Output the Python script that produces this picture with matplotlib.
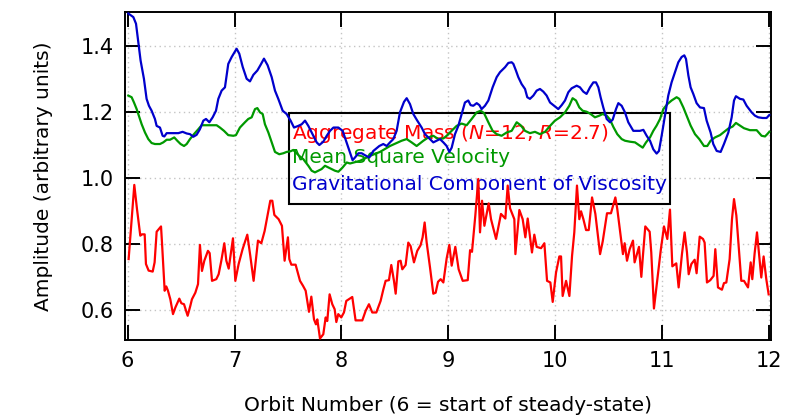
import matplotlib
matplotlib.use("Agg")
import matplotlib.pyplot as plt
from matplotlib.patches import Rectangle

# ---------------- data ----------------
red_x = [6.009, 6.062, 6.087, 6.118, 6.134, 6.159, 6.171, 6.196, 6.234, 6.252, 6.271, 6.312, 6.321,
         6.346, 6.361, 6.377, 6.399, 6.424, 6.446, 6.483, 6.502, 6.527, 6.561, 6.586, 6.601, 6.633,
         6.658, 6.676, 6.695, 6.717, 6.751, 6.767, 6.789, 6.829, 6.851, 6.876, 6.904, 6.923, 6.945,
         6.985, 7.007, 7.038, 7.075, 7.119, 7.147, 7.178, 7.219, 7.250, 7.281, 7.334, 7.353, 7.372,
         7.412, 7.443, 7.468, 7.499, 7.512, 7.531, 7.571, 7.612, 7.640, 7.665, 7.696, 7.718, 7.743,
         7.761, 7.774, 7.799, 7.830, 7.852, 7.867, 7.889, 7.914, 7.936, 7.952, 7.970, 7.998, 8.023,
         8.045, 8.101, 8.132, 8.195, 8.226, 8.257, 8.288, 8.326, 8.366, 8.391, 8.413, 8.444, 8.466,
         8.491, 8.507, 8.532, 8.553, 8.569, 8.600, 8.625, 8.647, 8.678, 8.709, 8.740, 8.759, 8.778,
         8.797, 8.828, 8.859, 8.881, 8.903, 8.928, 8.953, 8.984, 9.009, 9.031, 9.065, 9.096, 9.134,
         9.181, 9.203, 9.221, 9.252, 9.280, 9.296, 9.315, 9.337, 9.377, 9.399, 9.446, 9.492, 9.533,
         9.555, 9.577, 9.617, 9.627, 9.664, 9.695, 9.720, 9.742, 9.782, 9.804, 9.826, 9.867, 9.898,
         9.923, 9.954, 9.976, 10.007, 10.038, 10.054, 10.069, 10.101, 10.132, 10.157, 10.178, 10.203,
         10.225, 10.241, 10.263, 10.288, 10.313, 10.344, 10.375, 10.419, 10.444, 10.484, 10.521,
         10.562, 10.580, 10.602, 10.633, 10.649, 10.671, 10.696, 10.727, 10.742, 10.764, 10.783,
         10.805, 10.820, 10.842, 10.883, 10.898, 10.923, 10.955, 10.986, 11.017, 11.048, 11.073,
         11.095, 11.132, 11.154, 11.185, 11.210, 11.232, 11.248, 11.273, 11.304, 11.322, 11.351,
         11.382, 11.397, 11.419, 11.450, 11.481, 11.497, 11.522, 11.559, 11.578, 11.600, 11.631,
         11.653, 11.672, 11.694, 11.718, 11.740, 11.765, 11.803, 11.828, 11.843, 11.865, 11.887,
         11.903, 11.927, 11.949, 11.974, 11.996]
red_y = [0.755, 0.980, 0.907, 0.826, 0.830, 0.830, 0.740, 0.720, 0.717, 0.745, 0.838, 0.854, 0.805,
         0.659, 0.672, 0.659, 0.633, 0.588, 0.608, 0.635, 0.621, 0.618, 0.583, 0.613, 0.633, 0.653,
         0.679, 0.798, 0.719, 0.750, 0.780, 0.773, 0.689, 0.694, 0.709, 0.750, 0.803, 0.750, 0.726,
         0.818, 0.689, 0.740, 0.785, 0.829, 0.765, 0.689, 0.811, 0.803, 0.840, 0.932, 0.932, 0.889,
         0.876, 0.856, 0.750, 0.821, 0.755, 0.738, 0.738, 0.689, 0.674, 0.659, 0.595, 0.641, 0.572,
         0.557, 0.572, 0.514, 0.527, 0.578, 0.567, 0.648, 0.618, 0.603, 0.564, 0.588, 0.578, 0.593,
         0.628, 0.640, 0.569, 0.569, 0.598, 0.618, 0.593, 0.593, 0.628, 0.662, 0.689, 0.691, 0.737,
         0.689, 0.650, 0.748, 0.750, 0.724, 0.737, 0.805, 0.794, 0.745, 0.780, 0.797, 0.821, 0.866,
         0.805, 0.730, 0.650, 0.653, 0.686, 0.694, 0.684, 0.757, 0.798, 0.735, 0.792, 0.724, 0.689,
         0.691, 0.782, 0.777, 0.887, 0.998, 0.836, 0.932, 0.856, 0.924, 0.876, 0.816, 0.892, 0.878,
         0.978, 0.909, 0.876, 0.770, 0.904, 0.876, 0.821, 0.878, 0.775, 0.829, 0.792, 0.788, 0.803,
         0.689, 0.684, 0.625, 0.714, 0.763, 0.763, 0.643, 0.689, 0.643, 0.765, 0.836, 0.978,
         0.876, 0.900, 0.876, 0.843, 0.843, 0.942, 0.892, 0.770, 0.809, 0.894, 0.894,
         0.942, 0.907, 0.851, 0.770, 0.803, 0.750, 0.785, 0.811, 0.745, 0.770, 0.792,
         0.701, 0.765, 0.854, 0.838, 0.775, 0.605, 0.694, 0.780, 0.854, 0.816, 0.905,
         0.733, 0.742, 0.669, 0.770, 0.836, 0.775, 0.709, 0.740, 0.753, 0.712, 0.823,
         0.816, 0.805, 0.684, 0.691, 0.704, 0.785, 0.669, 0.662, 0.682, 0.684, 0.755,
         0.876, 0.937, 0.887, 0.785, 0.689, 0.689, 0.669, 0.745, 0.694, 0.773, 0.836,
         0.780, 0.699, 0.763, 0.694, 0.648]

green_x = [6.006, 6.037, 6.059, 6.084, 6.099, 6.131, 6.162, 6.193, 6.224, 6.255, 6.302, 6.333, 6.365,
           6.396, 6.436, 6.464, 6.495, 6.527, 6.552, 6.583, 6.620, 6.661, 6.692, 6.739, 6.786, 6.832,
           6.863, 6.901, 6.941, 6.988, 7.013, 7.050, 7.097, 7.128, 7.160, 7.191, 7.213, 7.238, 7.263,
           7.284, 7.316, 7.347, 7.378, 7.418, 7.456, 7.487, 7.524, 7.549, 7.574, 7.605, 7.643, 7.690,
           7.721, 7.752, 7.783, 7.814, 7.846, 7.877, 7.908, 7.939, 7.971, 8.011, 8.049, 8.080, 8.173,
           8.267, 8.360, 8.454, 8.563, 8.610, 8.656, 8.703, 8.766, 8.812, 8.859, 8.906, 8.953, 8.984,
           9.031, 9.077, 9.124, 9.171, 9.218, 9.265, 9.302, 9.333, 9.374, 9.414, 9.452, 9.498, 9.545,
           9.592, 9.639, 9.676, 9.717, 9.763, 9.810, 9.857, 9.904, 9.951, 9.997, 10.044, 10.091,
           10.131, 10.162, 10.194, 10.225, 10.256, 10.293, 10.331, 10.371, 10.412, 10.443, 10.481,
           10.512, 10.543, 10.580, 10.621, 10.652, 10.699, 10.746, 10.777, 10.818, 10.849, 10.886,
           10.917, 10.948, 10.980, 11.011, 11.048, 11.088, 11.135, 11.160, 11.198, 11.229, 11.266,
           11.307, 11.347, 11.391, 11.422, 11.453, 11.494, 11.541, 11.572, 11.619, 11.659, 11.690,
           11.728, 11.765, 11.821, 11.884, 11.930, 11.962, 11.983, 12.002]
green_y = [1.251, 1.246, 1.230, 1.210, 1.195, 1.164, 1.139, 1.119, 1.107, 1.104, 1.104, 1.109, 1.117,
           1.117, 1.124, 1.114, 1.104, 1.098, 1.104, 1.119, 1.134, 1.149, 1.161, 1.161, 1.161, 1.161,
           1.154, 1.144, 1.131, 1.129, 1.131, 1.154, 1.170, 1.180, 1.185, 1.210, 1.213, 1.200, 1.195,
           1.164, 1.139, 1.109, 1.080, 1.073, 1.076, 1.080, 1.082, 1.086, 1.078, 1.068, 1.058, 1.038,
           1.023, 1.018, 1.023, 1.028, 1.038, 1.033, 1.028, 1.023, 1.020, 1.033, 1.048, 1.045, 1.053,
           1.068, 1.080, 1.098, 1.114, 1.119, 1.109, 1.098, 1.114, 1.124, 1.129, 1.119, 1.121, 1.129,
           1.144, 1.159, 1.166, 1.161, 1.180, 1.200, 1.205, 1.198, 1.170, 1.144, 1.134, 1.129, 1.139,
           1.144, 1.170, 1.161, 1.144, 1.137, 1.141, 1.134, 1.141, 1.159, 1.175, 1.185, 1.200,
           1.220, 1.243, 1.236, 1.215, 1.205, 1.202, 1.195, 1.185, 1.190, 1.195, 1.190,
           1.178, 1.156, 1.134, 1.119, 1.114, 1.111, 1.109, 1.102, 1.093, 1.109, 1.124,
           1.144, 1.160, 1.180, 1.210, 1.225, 1.236, 1.246, 1.241, 1.215, 1.190, 1.160,
           1.134, 1.119, 1.098, 1.098, 1.114, 1.124, 1.131, 1.139, 1.151, 1.157, 1.168,
           1.160, 1.152, 1.146, 1.146, 1.129, 1.127, 1.134, 1.141]

blue_x = [6.006, 6.053, 6.078, 6.099, 6.121, 6.152, 6.177, 6.199, 6.224, 6.255, 6.271, 6.302, 6.327,
          6.343, 6.365, 6.396, 6.427, 6.474, 6.514, 6.552, 6.583, 6.614, 6.645, 6.676, 6.708, 6.733,
          6.764, 6.795, 6.826, 6.848, 6.879, 6.910, 6.941, 6.973, 7.019, 7.044, 7.076, 7.113, 7.144,
          7.176, 7.213, 7.245, 7.275, 7.309, 7.347, 7.378, 7.409, 7.450, 7.487, 7.524, 7.556, 7.596,
          7.628, 7.659, 7.690, 7.721, 7.768, 7.793, 7.830, 7.862, 7.893, 7.925, 7.971, 8.011, 8.048,
          8.104, 8.126, 8.158, 8.189, 8.220, 8.260, 8.298, 8.354, 8.391, 8.423, 8.454, 8.485, 8.516,
          8.547, 8.585, 8.610, 8.641, 8.672, 8.709, 8.750, 8.781, 8.812, 8.859, 8.890, 8.921, 8.953,
          8.984, 9.009, 9.031, 9.062, 9.093, 9.124, 9.155, 9.186, 9.208, 9.233, 9.265, 9.290, 9.311,
          9.342, 9.374, 9.414, 9.452, 9.483, 9.530, 9.561, 9.592, 9.608, 9.632, 9.654, 9.685, 9.717,
          9.738, 9.763, 9.795, 9.826, 9.857, 9.888, 9.919, 9.951, 9.982, 10.028, 10.060, 10.091,
          10.122, 10.153, 10.200, 10.231, 10.262, 10.293, 10.325, 10.356, 10.381, 10.403, 10.424,
          10.449, 10.481, 10.512, 10.537, 10.568, 10.590, 10.621, 10.652, 10.683, 10.730, 10.792,
          10.824, 10.855, 10.886, 10.917, 10.948, 10.970, 10.995, 11.026, 11.057, 11.088, 11.120,
          11.151, 11.182, 11.207, 11.223, 11.245, 11.266, 11.291, 11.322, 11.354, 11.391, 11.416,
          11.453, 11.478, 11.510, 11.547, 11.578, 11.619, 11.650, 11.672, 11.690, 11.728, 11.759,
          11.790, 11.837, 11.868, 11.899, 11.940, 11.977, 12.002]
blue_y = [1.500, 1.489, 1.469, 1.413, 1.357, 1.302, 1.241, 1.220, 1.205, 1.180, 1.159, 1.154, 1.129,
          1.127, 1.137, 1.137, 1.137, 1.137, 1.141, 1.136, 1.134, 1.126, 1.132, 1.149, 1.175, 1.180,
          1.170, 1.185, 1.205, 1.241, 1.266, 1.276, 1.347, 1.368, 1.393, 1.378, 1.338, 1.302, 1.294,
          1.314, 1.327, 1.345, 1.363, 1.343, 1.307, 1.266, 1.241, 1.205, 1.195, 1.175, 1.154, 1.159,
          1.164, 1.175, 1.159, 1.139, 1.109, 1.101, 1.111, 1.129, 1.144, 1.154, 1.154, 1.144, 1.109,
          1.055, 1.063, 1.076, 1.076, 1.070, 1.063, 1.083, 1.098, 1.104, 1.098, 1.109, 1.119, 1.144,
          1.200, 1.232, 1.243, 1.225, 1.195, 1.175, 1.154, 1.134, 1.124, 1.109, 1.114, 1.119, 1.109,
          1.098, 1.080, 1.093, 1.134, 1.159, 1.195, 1.230, 1.236, 1.222, 1.220, 1.228, 1.222, 1.210,
          1.220, 1.236, 1.276, 1.307, 1.322, 1.337, 1.350, 1.352, 1.347, 1.327, 1.307, 1.286, 1.271,
          1.246, 1.241, 1.251, 1.266, 1.271, 1.263, 1.251, 1.230, 1.222, 1.210, 1.222, 1.236,
          1.261, 1.273, 1.281, 1.276, 1.263, 1.256, 1.276, 1.291, 1.291, 1.276, 1.246,
          1.215, 1.180, 1.170, 1.178, 1.210, 1.228, 1.220, 1.200, 1.170, 1.144, 1.144,
          1.147, 1.129, 1.114, 1.088, 1.075, 1.083, 1.129, 1.190, 1.251, 1.291, 1.322,
          1.352, 1.368, 1.373, 1.362, 1.312, 1.276, 1.256, 1.228, 1.215, 1.213, 1.175,
          1.139, 1.104, 1.083, 1.080, 1.104, 1.139, 1.185, 1.236, 1.249, 1.241, 1.239,
          1.220, 1.200, 1.190, 1.185, 1.183, 1.183, 1.192]

legend_labels = ["Aggregate Mass ($\\it{N}$=12, $\\it{R}$=2.7)",
                 "Mean Square Velocity",
                 "Gravitational Component of Viscosity"]
colors = ["#ff0000", "#009900", "#0000cc"]
x_ticks = [6, 7, 8, 9, 10, 11, 12]
y_ticks = [0.6, 0.8, 1.0, 1.2, 1.4]
x_label = "Orbit Number (6 = start of steady-state)"
y_label = "Amplitude (arbitrary units)"

# ---------------- figure ----------------
plt.rcParams['font.family'] = ['DejaVu Sans']
fig = plt.figure(figsize=(7.91, 4.19), dpi=100)
ax = fig.add_axes([125 / 791, 1 - 340 / 419, 646 / 791, 328 / 419])

ax.plot(red_x, red_y, color=colors[0], lw=1.6, zorder=3)
ax.plot(green_x, green_y, color=colors[1], lw=1.6, zorder=4)
ax.plot(blue_x, blue_y, color=colors[2], lw=1.6, zorder=5)

ax.set_xlim(5.975, 12.018)
ax.set_ylim(0.5095, 1.5045)
ax.set_xticks(x_ticks)
ax.set_xticklabels([str(t) for t in x_ticks])
ax.set_yticks(y_ticks)
ax.set_yticklabels([f"{t:.1f}" for t in y_ticks])

ax.grid(True, color="#c4c4c4", linestyle=(0, (1, 2.5)), linewidth=1.0, zorder=0)
ax.tick_params(axis='both', which='major', direction='in', length=11, width=1.4,
               top=True, right=True, labelsize=15, pad=8, colors='black')
for s in ax.spines.values():
    s.set_linewidth(1.4)

ax.set_xlabel(x_label, fontsize=14.5, labelpad=18)
ax.set_ylabel(y_label, fontsize=14.5, labelpad=20)

# legend box (text-only entries, transparent frame)
ax.add_patch(Rectangle((0.2539, 0.4146), 0.8437 - 0.2539, 0.6921 - 0.4146,
                       transform=ax.transAxes, fill=False, edgecolor='black', lw=1.5, zorder=2))
for lab, col, yy in zip(legend_labels, colors, [0.631, 0.555, 0.4726]):
    ax.text(0.2585, yy, lab, color=col, fontsize=14.5, transform=ax.transAxes,
            ha='left', va='center', zorder=2)

fig.savefig("out.png", dpi=100)
